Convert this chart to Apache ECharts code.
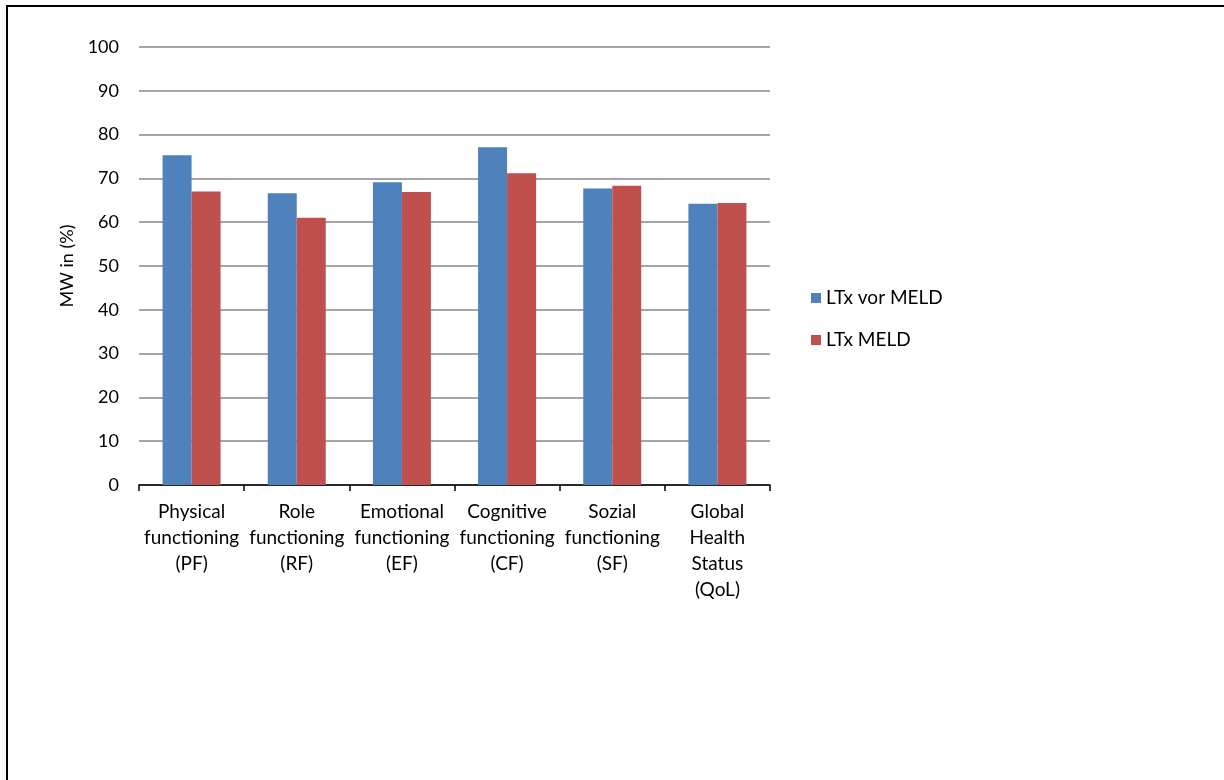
<!DOCTYPE html>
<html><head><meta charset="utf-8">
<script src="https://cdn.jsdelivr.net/npm/echarts@6/dist/echarts.min.js"></script>
<style>html,body{margin:0;padding:0;background:#fff}#c{width:1224px;height:780px}</style>
</head><body><div id="c"></div>
<script>
var categories = ["Physical\nfunctioning\n(PF)", "Role\nfunctioning\n(RF)", "Emotional\nfunctioning\n(EF)", "Cognitive\nfunctioning\n(CF)", "Sozial\nfunctioning\n(SF)", "Global\nHealth\nStatus\n(QoL)"];
var seriesNames = ["LTx vor MELD", "LTx MELD"];
var ltxVorMeld = [75.3, 66.6, 69.1, 77.1, 67.7, 64.2];
var ltxMeld = [67.0, 61.0, 66.9, 71.2, 68.3, 64.4];
var yTicks = [0, 10, 20, 30, 40, 50, 60, 70, 80, 90, 100];

var chart = echarts.init(document.getElementById('c'), null, {renderer: 'canvas'});
var font = 'Lato, "Open Sans", "Liberation Sans", sans-serif';
chart.setOption({
  animation: false,
  backgroundColor: '#fff',
  textStyle: {fontFamily: font},
  graphic: [{
    type: 'rect', shape: {x: 7, y: 6, width: 1400, height: 1000},
    style: {fill: 'none', stroke: '#000', lineWidth: 2}, silent: true
  }],
  grid: {left: 139, right: 454, top: 47, bottom: 295, containLabel: false},
  legend: {
    orient: 'vertical', left: 806, top: 283, itemWidth: 10, itemHeight: 10, itemGap: 22,
    icon: 'rect',
    textStyle: {fontSize: 19, lineHeight: 20, color: '#000', fontFamily: font, padding: [0, 0, 0, 0]},
    data: seriesNames
  },
  xAxis: {
    type: 'category', data: categories,
    axisLine: {lineStyle: {color: '#000', width: 1.5}},
    axisTick: {show: true, length: 6, lineStyle: {color: '#000', width: 1.5}},
    axisLabel: {interval: 0, fontSize: 19, color: '#000', lineHeight: 26, margin: 14, fontFamily: font}
  },
  yAxis: {
    type: 'value', min: yTicks[0], max: yTicks[yTicks.length - 1], interval: 10,
    name: 'MW in (%)', nameLocation: 'middle', nameGap: 63, nameRotate: 90,
    nameTextStyle: {fontSize: 18, color: '#000', fontFamily: font},
    axisLine: {show: false}, axisTick: {show: false},
    axisLabel: {fontSize: 18, color: '#000', margin: 20, fontFamily: font},
    splitLine: {lineStyle: {color: '#878787', width: 1.5}}
  },
  series: [
    {name: seriesNames[0], type: 'bar', data: ltxVorMeld, barWidth: 29, barGap: '0%',
     itemStyle: {color: '#4F81BD'}},
    {name: seriesNames[1], type: 'bar', data: ltxMeld, barWidth: 29, barGap: '0%',
     itemStyle: {color: '#C0504D'}}
  ]
});
</script></body></html>
